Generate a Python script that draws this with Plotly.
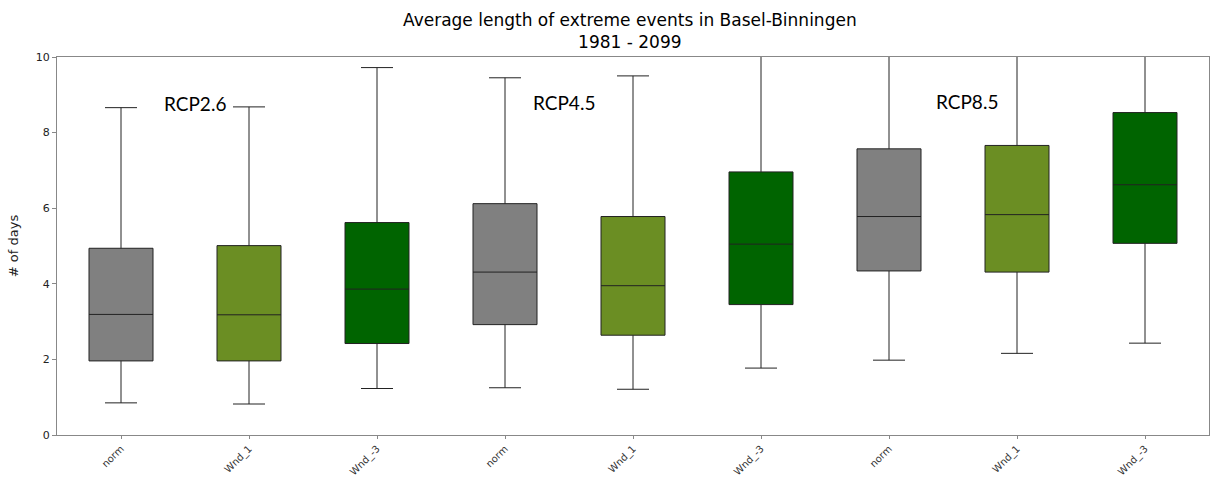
import plotly.graph_objects as go

categories = ["norm", "Wnd_1", "Wnd_-3", "norm", "Wnd_1", "Wnd_-3", "norm", "Wnd_1", "Wnd_-3"]
positions = [1, 2, 3, 4, 5, 6, 7, 8, 9]
lower_whisker = [0.85, 0.82, 1.23, 1.25, 1.21, 1.77, 1.98, 2.16, 2.43]
q1_values = [1.96, 1.96, 2.42, 2.92, 2.64, 3.45, 4.34, 4.31, 5.07]
medians = [3.19, 3.18, 3.86, 4.31, 3.95, 5.05, 5.78, 5.83, 6.62]
q3_values = [4.94, 5.01, 5.62, 6.12, 5.78, 6.96, 7.57, 7.66, 8.53]
upper_whisker = [8.66, 8.68, 9.72, 9.45, 9.50, 11.5, 11.8, 12.0, 12.8]
box_colors = ["gray", "olivedrab", "darkgreen"] * 3

scenario_labels = ["RCP2.6", "RCP4.5", "RCP8.5"]
scenario_x = [1.58, 4.46, 7.61]
scenario_y = [8.77, 8.8, 8.83]

fig = go.Figure()
for i in range(len(positions)):
    fig.add_trace(go.Box(
        x=[positions[i]],
        q1=[q1_values[i]],
        median=[medians[i]],
        q3=[q3_values[i]],
        lowerfence=[lower_whisker[i]],
        upperfence=[upper_whisker[i]],
        fillcolor=box_colors[i],
        line=dict(color="#222222", width=1),
        width=0.5,
        whiskerwidth=0.5,
        boxpoints=False,
        showlegend=False,
        hoverinfo="skip",
    ))

for lab, xx, yy in zip(scenario_labels, scenario_x, scenario_y):
    fig.add_annotation(x=xx, y=yy, text=lab, showarrow=False,
                       font=dict(family="Lato", size=19, color="black"),
                       xanchor="center", yanchor="middle")

fig.add_annotation(
    text="Average length of extreme events in Basel-Binningen<br>1981 - 2099",
    xref="paper", yref="paper", x=0.4975, y=1, xanchor="center", yanchor="bottom",
    yshift=3, showarrow=False,
    font=dict(family="DejaVu Sans", size=17, color="black"),
)

fig.update_layout(
    width=1210, height=477,
    margin=dict(l=57, r=1, t=57, b=42),
    paper_bgcolor="white", plot_bgcolor="white",
    font=dict(family="DejaVu Sans", color="#222222"),
)
fig.update_xaxes(
    range=[0.5, 9.5], tickmode="array", tickvals=positions, ticktext=categories,
    tickangle=-45, tickfont=dict(size=10, color="#333333"), showgrid=False, zeroline=False,
    showline=True, linecolor="#888888", linewidth=1, mirror=True,
    ticks="outside", ticklen=3, tickcolor="#888888", automargin=False,
)
fig.update_yaxes(
    range=[0, 10], tickvals=[0, 2, 4, 6, 8, 10], tickfont=dict(size=11),
    title=dict(text="# of days", font=dict(size=13), standoff=14),
    showgrid=False, zeroline=False, automargin=False,
    showline=True, linecolor="#888888", linewidth=1, mirror=True,
    ticks="outside", ticklen=4, tickcolor="#888888",
)

fig.write_html("out.html")
